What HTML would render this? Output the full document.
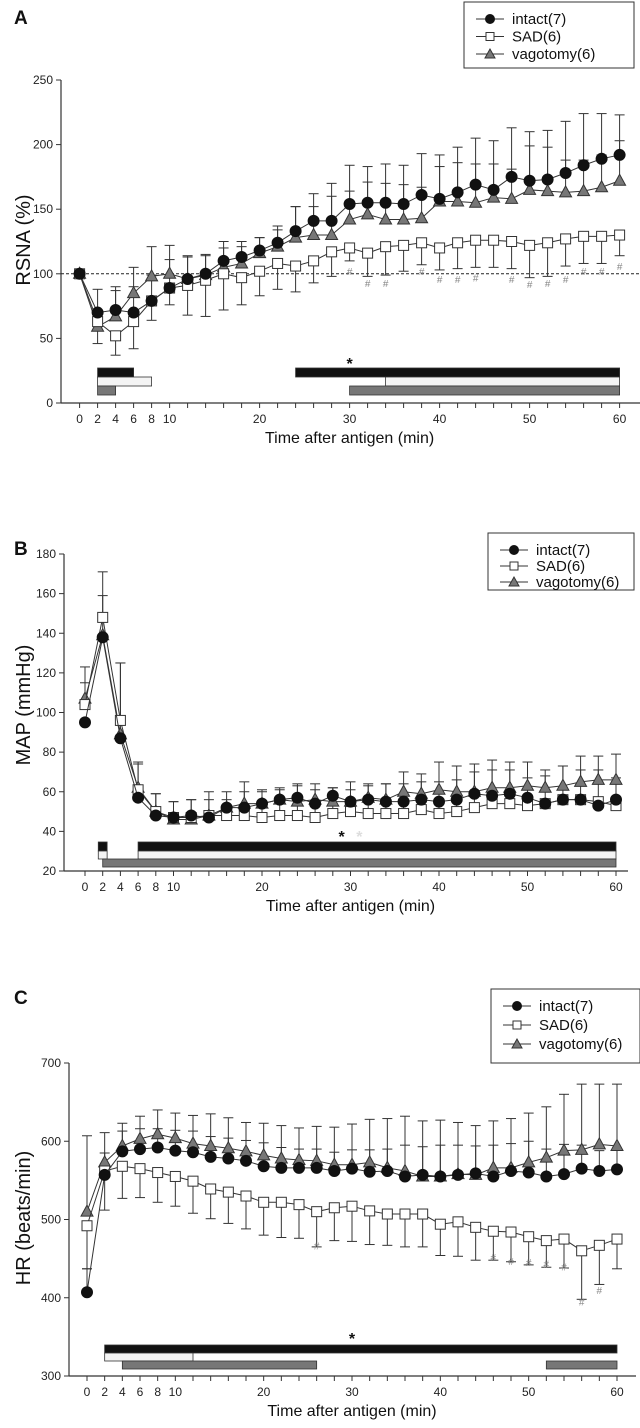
<!DOCTYPE html>
<html><head><meta charset="utf-8">
<style>
html,body{margin:0;padding:0;background:#fff;}
svg{display:block;font-family:"Liberation Sans",Arial,sans-serif;}
</style></head>
<body>
<svg id="fig" width="640" height="1428" viewBox="0 0 640 1428" xmlns="http://www.w3.org/2000/svg"></svg>
<script>
// ---- shared data ----
var times = [0,2,4,6,8,10,12,14,16,18,20,22,24,26,28,30,32,34,36,38,40,42,44,46,48,50,52,54,56,58,60];
var xTickLabels = [0,2,4,6,8,10,20,30,40,50,60];
var legendLabels = ["intact(7)","SAD(6)","vagotomy(6)"];

// Panel A: RSNA (%)
var aIntact = [100,70,72,70,79,89,96,100,110,113,118,124,133,141,141,154,155,155,154,161,158,163,169,165,175,172,173,178,184,189,192];
var aSAD    = [100,63,52,63,79,89,91,95,100,97,102,108,106,110,117,120,116,121,122,124,120,124,126,126,125,122,124,127,129,129,130];
var aVag    = [100,59,67,85,98,100,96,99,105,108,116,121,128,130,130,142,146,142,142,143,156,156,155,159,158,165,164,163,164,167,172];
var aIntactErr = [0,18,18,20,20,22,18,15,15,12,10,13,19,21,29,30,28,30,30,32,34,35,36,38,38,38,38,40,40,35,31];
var aSADErr    = [0,17,15,21,15,13,23,28,28,21,19,20,20,17,19,10,18,22,20,17,17,20,21,21,21,25,26,21,21,21,16];
var aVagErr    = [0,12,20,20,23,22,17,15,15,13,12,13,24,22,30,22,25,28,27,24,27,30,30,26,23,34,34,25,24,25,31];
var aHashTimes = [30,32,34,38,40,42,44,48,50,52,54,56,58,60];
var aHashVals  = [102,93,93,102,96,96,97,96,92,93,96,102,102,106];
var aYTicks = [0,50,100,150,200,250];

// Panel B: MAP (mmHg)
var bIntact = [95,138,87,57,48,47,48,47,52,52,54,56,57,54,58,55,56,55,55,56,55,56,59,58,59,57,54,56,56,53,56];
var bSAD    = [104,148,96,61,50,47,47,48,48,48,47,48,48,47,49,50,49,49,49,51,49,50,52,54,54,53,54,56,56,55,53];
var bVag    = [107,139,89,62,50,46,46,48,52,54,54,56,55,56,55,55,57,56,60,59,61,60,60,62,62,63,62,63,65,66,66];
var bVagErr = [16,32,36,13,9,9,10,12,8,11,7,6,9,8,7,10,7,8,10,10,14,13,14,14,13,12,9,10,13,12,13];
var bSADErr = [11,11,29,13,9,8,9,8,8,12,13,13,15,14,13,11,14,15,15,14,16,16,18,17,17,14,14,17,15,16,14];
var bYTicks = [20,40,60,80,100,120,140,160,180];

// Panel C: HR (beats/min)
var cIntact = [407,557,587,590,592,588,586,580,578,575,568,566,566,566,562,565,561,562,555,557,555,557,559,555,562,560,555,558,565,562,564];
var cSAD    = [492,562,568,565,560,555,549,539,535,530,522,522,519,510,515,517,511,507,507,507,494,497,490,485,484,478,473,475,460,467,475];
var cVag    = [510,573,594,603,609,604,597,594,591,587,582,578,576,575,570,570,573,566,562,555,555,558,557,566,566,573,579,588,589,596,594];
var cIntactErr = [30,28,26,26,24,26,27,26,26,26,30,26,24,24,24,24,28,28,40,36,40,38,35,40,35,40,35,38,30,26,25];
var cSADErr = [55,50,41,37,38,38,41,38,40,42,42,45,43,45,42,45,43,40,42,42,40,44,42,37,38,36,34,37,62,50,38];
var cVagErr = [97,38,29,29,31,32,36,41,39,37,41,42,41,44,48,52,55,63,70,71,72,66,63,60,63,63,65,72,84,77,79];
var cHashTimes = [26,46,48,50,52,54,56,58];
var cHashVals  = [467,452,447,446,444,440,395,410];

var NS = "http://www.w3.org/2000/svg";
var svg = document.getElementById("fig");
function el(tag, attrs, parent){
  var e = document.createElementNS(NS, tag);
  for (var k in attrs) e.setAttribute(k, attrs[k]);
  (parent||svg).appendChild(e);
  return e;
}
function txt(s, x, y, size, anchor, parent, extra){
  var t = el("text", {x:x, y:y, "font-size":size, "text-anchor":anchor||"middle", fill:"#111"}, parent);
  if (extra) for (var k in extra) t.setAttribute(k, extra[k]);
  t.textContent = s;
  return t;
}

function drawPanel(cfg){
  var g = el("g", {});
  
  
  function X(t){ return cfg.x0 + (t - 0) * (cfg.x60 - cfg.x0) / 60; }
  function Y(v){ return cfg.yBot - (v - cfg.yMin) * (cfg.yBot - cfg.yTop) / (cfg.yMax - cfg.yMin); }
  var L = txt(cfg.letter, 14, cfg.letterY, 19, "start", g, {"font-weight":"bold"});
  
  
  var ya = el("line", {x1:cfg.axX, y1:cfg.yTop, x2:cfg.axX, y2:cfg.yBot, stroke:"#333", "stroke-width":1.2}, g);
  
  
  var xa = el("line", {x1:cfg.axX, y1:cfg.yBot, x2:cfg.axEnd, y2:cfg.yBot, stroke:"#333", "stroke-width":1.2}, g);
  
  
  cfg.yTicks.forEach(function(v){
    el("line", {x1:cfg.axX-5, y1:Y(v), x2:cfg.axX, y2:Y(v), stroke:"#333"}, g);
    var t = txt(String(v), cfg.axX-8, Y(v)+4, 12, "end", g, {fill:"#222"});
    
    
  });
  times.forEach(function(tm){
    el("line", {x1:X(tm), y1:cfg.yBot, x2:X(tm), y2:cfg.yBot+5, stroke:"#333"}, g);
  });
  xTickLabels.forEach(function(tm){
    var t = txt(String(tm), X(tm), cfg.yBot+20, 12, "middle", g, {fill:"#222"});
    
    
  });
  var xt = txt("Time after antigen (min)", (cfg.x0+cfg.x60)/2, cfg.yBot+40, 16, "middle", g);
  
  
  var yt = txt(cfg.ylabel, 0, 0, 20, "middle", g, {transform:"translate(30,"+cfg.ylabY+") rotate(-90)"});
  
  
  if (cfg.refLine){
    var rl = el("line", {x1:cfg.axX, y1:Y(100), x2:cfg.axEnd, y2:Y(100), stroke:"#222", "stroke-dasharray":"3,2", "stroke-width":1}, g);
    
    
  }
  cfg.bars.forEach(function(b){
    var r = el("rect", {x:X(b[0]), y:b[2], width:X(b[1])-X(b[0]), height:b[3], fill:b[4], stroke:"#333", "stroke-width":0.8}, g);
    
    
  });
  cfg.stars.forEach(function(s){
    var st = txt("*", X(s[0]), s[1], 16, "middle", g, {fill:s[2], "font-weight":"bold"});
    
    
  });
  function errs(vals, err, dir, name){
    vals.forEach(function(v, i){
      if (!err[i]) return;
      var y2 = Y(v + dir*err[i]);
      var eg = el("g", {stroke:"#333", "stroke-width":1}, g);
      
      
      el("line", {x1:X(times[i]), y1:Y(v), x2:X(times[i]), y2:y2}, eg);
      el("line", {x1:X(times[i])-5, y1:y2, x2:X(times[i])+5, y2:y2}, eg);
    });
  }
  cfg.errs.forEach(function(e){ errs(e[0], e[1], e[2], e[3]); });
  function series(vals, kind, name){
    var pts = vals.map(function(v,i){ return X(times[i])+","+Y(v); }).join(" ");
    var pl = el("polyline", {points:pts, fill:"none", stroke:"#333", "stroke-width":1}, g);
    
    
    vals.forEach(function(v,i){
      var x = X(times[i]), y = Y(v), m;
      if (kind==="circle") m = el("circle", {cx:x, cy:y, r:5.5, fill:"#111", stroke:"#111"}, g);
      else if (kind==="square") m = el("rect", {x:x-5, y:y-5, width:10, height:10, fill:"#fff", stroke:"#333"}, g);
      else m = el("polygon", {points:(x)+","+(y-6.5)+" "+(x-6)+","+(y+4.5)+" "+(x+6)+","+(y+4.5), fill:"#777", stroke:"#333"}, g);
      
      
    });
  }
  series(cfg.vag, "tri", "vagotomy");
  series(cfg.sad, "square", "sad");
  series(cfg.intact, "circle", "intact");
  (cfg.hashT||[]).forEach(function(tm, i){
    var h = txt("#", X(tm), Y(cfg.hashV[i])+4, 10, "middle", g, {fill:"#888"});
    
    
  });
  var lg = el("g", {}, g);
  
  
  el("rect", {x:cfg.lg[0], y:cfg.lg[1], width:cfg.lg[2], height:cfg.lg[3], fill:"#fff", stroke:"#333", "stroke-width":1}, lg);
  var kinds = ["circle","square","tri"];
  var step = cfg.lgStep || 17;
  legendLabels.forEach(function(lab, i){
    var ly = cfg.lg[1] + 17 + i*step;
    var lx = cfg.lg[0] + 12;
    var en = el("g", {}, lg);
    
    
    el("line", {x1:lx, y1:ly, x2:lx+28, y2:ly, stroke:"#333"}, en);
    var cx = lx+14;
    if (kinds[i]==="circle") el("circle", {cx:cx, cy:ly, r:5, fill:"#111"}, en);
    else if (kinds[i]==="square") el("rect", {x:cx-4, y:ly-4, width:8, height:8, fill:"#fff", stroke:"#333"}, en);
    else el("polygon", {points:cx+","+(ly-5)+" "+(cx-5)+","+(ly+4)+" "+(cx+5)+","+(ly+4), fill:"#777", stroke:"#333"}, en);
    txt(lab, lx+36, ly+5, 15, "start", en);
  });
}

drawPanel({name:"panel-a-rsna", letter:"A", letterY:24, x0:79.6, x60:619.6, axX:61, axEnd:640,
  yTop:80, yBot:403, yMin:0, yMax:250, yTicks:aYTicks, ylabel:"RSNA (%)", ylabY:240, refLine:true,
  intact:aIntact, sad:aSAD, vag:aVag,
  errs:[[aVag,aVagErr,1,"vagotomy-error"],[aSAD,aSADErr,-1,"sad-error"],[aIntact,aIntactErr,1,"intact-error"]],
  hashT:aHashTimes, hashV:aHashVals,
  bars:[[2,6,368,9,"#111"],[24,60,368,9,"#111"],[2,8,377,9,"#f4f4f4"],[34,60,377,9,"#f4f4f4"],[2,4,386,9,"#777"],[30,60,386,9,"#777"]],
  stars:[[30,369,"#111"]],
  lg:[464,2,170,66], lgStep:17.5});

drawPanel({name:"panel-b-map", letter:"B", letterY:555, x0:85, x60:616, axX:64, axEnd:628,
  yTop:554, yBot:871, yMin:20, yMax:180, yTicks:bYTicks, ylabel:"MAP (mmHg)", ylabY:705,
  intact:bIntact, sad:bSAD, vag:bVag,
  errs:[[bVag,bVagErr,1,"vagotomy-error"],[bSAD,bSADErr,1,"sad-error"]],
  bars:[[1.5,2.5,842,9,"#111"],[6,60,842,9,"#111"],[1.5,2.5,851,8,"#f4f4f4"],[6,60,851,8,"#f4f4f4"],[2,60,859,8,"#777"]],
  stars:[[29,842,"#111"],[31,842,"#ddd"]],
  lg:[488,533,146,57], lgStep:16});

drawPanel({name:"panel-c-hr", letter:"C", letterY:1004, x0:87, x60:617, axX:69, axEnd:636,
  yTop:1063, yBot:1376, yMin:300, yMax:700, yTicks:[300,400,500,600,700], ylabel:"HR (beats/min)", ylabY:1218,
  intact:cIntact, sad:cSAD, vag:cVag,
  errs:[[cVag,cVagErr,1,"vagotomy-error"],[cIntact,cIntactErr,1,"intact-error"],[cSAD,cSADErr,-1,"sad-error"]],
  hashT:cHashTimes, hashV:cHashVals,
  bars:[[2,60,1345,8,"#111"],[2,12,1353,8,"#f4f4f4"],[4,26,1361,8,"#777"],[52,60,1361,8,"#777"]],
  stars:[[30,1344,"#111"]],
  lg:[491,989,149,74], lgStep:19});
</script>
</body></html>
